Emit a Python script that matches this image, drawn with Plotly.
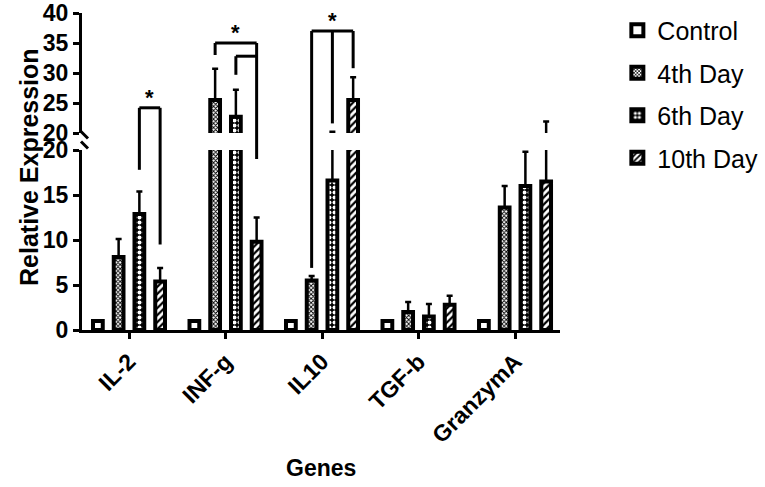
import plotly.graph_objects as go

# ---------------- data ----------------
categories = ["IL-2", "INF-g", "IL10", "TGF-b", "GranzymA"]
series_names = ["Control", "4th Day", "6th Day", "10th Day"]
control = [1.0, 1.0, 1.0, 1.0, 1.0]
control_err = [0, 0, 0, 0, 0]
day4 = [8.1, 25.5, 5.5, 2.0, 13.6]
day4_err = [2.0, 5.2, 0.5, 1.1, 2.4]
day6 = [12.9, 22.7, 16.6, 1.5, 16.0]
day6_err = [2.5, 4.5, 3.6, 1.4, 3.8]
day10 = [5.4, 9.8, 25.5, 2.8, 16.5]
day10_err = [1.5, 2.7, 3.8, 1.0, 5.4]

# significance brackets: group index, series index of each leg, leg bottom values, top value
brackets = [
    dict(group=0, legs=[2, 3], bottoms=[17.8, 9.5], top=24.2, star=True),
    dict(group=1, legs=[1, 3], bottoms=[33.0, 19.0], top=35.0, star=True),
    dict(group=1, legs=[2, 3], bottoms=[29.7, 32.8], top=32.8, star=False),
    dict(group=2, legs=[1, 2, 3], bottoms=[6.9, 21.6, 30.8], top=37.0, star=True),
]

# ---------------- layout constants ----------------
W, H = 765, 487
ML, MR, MT, MB = 82, 205, 13, 157
plot_h = H - MT - MB
plot_w = W - ML - MR
D_LOW = 180 / plot_h          # lower segment 0..20
D_UP = (330 - 133) / plot_h   # upper segment 20..40 starts here
BARGAP = 0.14
FONT = "Arial, Liberation Sans, sans-serif"

values = [control, day4, day6, day10]
errs = [control_err, day4_err, day6_err, day10_err]
styles = [
    dict(shape="", bg="white", fg="black", size=8, sol=0.3),
    dict(shape="x", bg="white", fg="black", size=3, sol=0.5),
    dict(shape=".", bg="black", fg="white", size=5, sol=0.5),
    dict(shape="/", bg="white", fg="black", size=5, sol=0.45),
]

xs = list(range(len(categories)))
fig = go.Figure()
for yax in ["y", "y2"]:
    for j, name in enumerate(series_names):
        st = styles[j]
        fig.add_trace(go.Bar(
            x=xs, y=values[j], name=name, yaxis=yax,
            legendgroup=name, showlegend=(yax == "y"),
            marker=dict(
                color=st["bg"],
                line=dict(color="black", width=4),
                pattern=dict(shape=st["shape"], bgcolor=st["bg"], fgcolor=st["fg"],
                             size=st["size"], solidity=st["sol"], fillmode="replace"),
            ),
            error_y=dict(type="data", symmetric=False, array=errs[j],
                         arrayminus=[0] * len(categories),
                         color="black", thickness=2.5, width=3,
                         visible=any(e > 0 for e in errs[j])),
        ))


def ypaper(v):
    if v <= 20:
        return v / 20 * D_LOW
    return D_UP + (v - 20) / 20 * (1 - D_UP)


def barx(i, j):
    return i + (j - 1.5) * (1 - BARGAP) / 4


shapes = []
annotations = []
for b in brackets:
    lx = [barx(b["group"], j) for j in b["legs"]]
    yt = ypaper(b["top"])
    shapes.append(dict(type="line", xref="x", yref="paper", x0=lx[0], x1=lx[-1],
                       y0=yt, y1=yt, line=dict(color="black", width=3)))
    for x, bot in zip(lx, b["bottoms"]):
        shapes.append(dict(type="line", xref="x", yref="paper", x0=x, x1=x,
                           y0=yt, y1=ypaper(bot), line=dict(color="black", width=3)))
    if b["star"]:
        annotations.append(dict(x=(lx[0] + lx[-1]) / 2, xref="x", y=yt, yref="paper",
                                text="<b>*</b>", showarrow=False, yanchor="bottom",
                                xanchor="center",
                                yshift=-4, font=dict(family=FONT, size=22, color="black")))

# axis break marks
gap_mid = (D_LOW + D_UP) / 2
for (x0, y0, x1, y1) in [(-2, 11, 6, 3), (-1, 0, 6, -7)]:
    shapes.append(dict(type="line", xref="paper", yref="paper", xsizemode="pixel",
                       ysizemode="pixel", xanchor=0, yanchor=gap_mid,
                       x0=x0, x1=x1, y0=y0, y1=y1, line=dict(color="black", width=3)))

annotations.append(dict(x=(321 - ML) / plot_w, y=(330 - 468) / plot_h,
                        xref="paper", yref="paper", text="<b>Genes</b>", showarrow=False,
                        xanchor="center", yanchor="middle",
                        font=dict(family=FONT, size=23, color="black")))
annotations.append(dict(x=(29 - ML) / plot_w, y=(330 - 167) / plot_h,
                        xref="paper", yref="paper", text="<b>Relative Expression</b>",
                        textangle=-90, showarrow=False, xanchor="center", yanchor="middle",
                        font=dict(family=FONT, size=25, color="black")))

axis_common = dict(showgrid=False, zeroline=False, showline=True, linecolor="black",
                   linewidth=3, ticks="outside", ticklen=6, tickwidth=3, tickcolor="black",
                   automargin=False,
                   tickfont=dict(family=FONT, size=23, color="black"))

fig.update_layout(
    width=W, height=H,
    margin=dict(l=ML, r=MR, t=MT, b=MB, autoexpand=False),
    paper_bgcolor="white", plot_bgcolor="white",
    barmode="group", bargap=BARGAP, bargroupgap=0.53,
    showlegend=True,
    legend=dict(x=1.12, y=1.017, xanchor="left", yanchor="top",
                traceorder="grouped", tracegroupgap=7,
                font=dict(family=FONT, size=25, color="black"),
                bgcolor="rgba(0,0,0,0)"),
    xaxis=dict(**axis_common, range=[-0.487, 4.466], tickvals=xs,
               ticktext=["<b>%s</b>" % c for c in categories], tickangle=-45),
    yaxis=dict(**axis_common, domain=[0, D_LOW], range=[0, 20],
               tickvals=[0, 5, 10, 15, 20], ticktext=["<b>%d</b>" % v for v in [0, 5, 10, 15, 20]]),
    yaxis2=dict(**axis_common, domain=[D_UP, 1], range=[20, 40], anchor="x",
                tickvals=[20, 25, 30, 35, 40], ticktext=["<b>%d</b>" % v for v in [20, 25, 30, 35, 40]]),
    shapes=shapes,
    annotations=annotations,
)

fig.write_html("out.html", post_script="document.body.style.margin='0px';",
               config={"displayModeBar": False})
